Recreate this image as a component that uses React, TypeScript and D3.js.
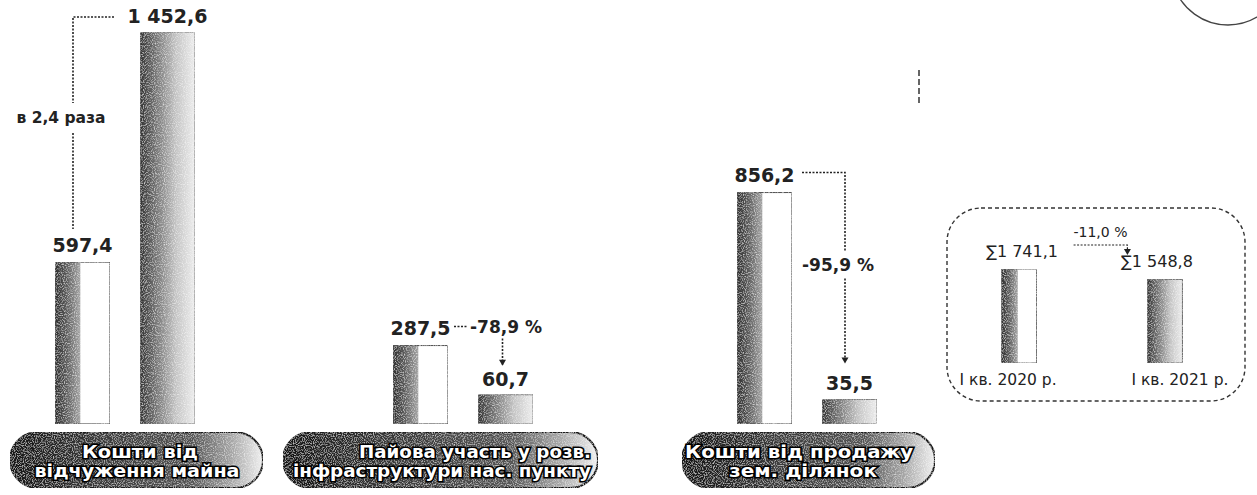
import React from "react";
import * as d3 from "d3";

// ---- data ----
const categoryLines: string[][] = [
  ["Кошти від", "відчуження майна"],
  ["Пайова участь у розв.", "інфраструктури нас. пункту"],
  ["Кошти від продажу", "зем. ділянок"],
];
const values2020: number[] = [597.4, 287.5, 856.2];
const values2021: number[] = [1452.6, 60.7, 35.5];
const changeLabels: string[] = ["в 2,4 раза", "-78,9 %", "-95,9 %"];
const periods: string[] = ["І кв. 2020 р.", "І кв. 2021 р."];
const totals: number[] = [1741.1, 1548.8];
const totalChange = "-11,0 %";

// ---- layout ----
const W = 1257;
const H = 495;
const base = 424;
const groupStarts = [55, 393, 737];
const pills = [
  { x: 10, w: 253, l2: 137, w1: 116, w2: 205, c1: 140 },
  { x: 283, w: 315, l2: 442, w1: 232, w2: 298, c1: 475 },
  { x: 682, w: 253, l2: 803, w1: 228, w2: 148, c1: 799 },
];

const loc = d3.formatLocale({ decimal: ",", thousands: "\u00a0", grouping: [3], currency: ["", ""] });
const fmt = loc.format(",.1f");

const yMain = d3.scaleLinear().domain([0, 200, 1452.6]).range([base - 18, base - 55, base - 392]);
const boxBase = 363;
const yBox = d3.scaleLinear().domain([0, 1741.1]).range([boxBase, boxBase - 94]);
const xBox = d3.scaleBand<string>().domain(periods).range([987, 1197]).paddingInner(0.76).paddingOuter(0.1);

const numFont = "'DejaVu Sans', sans-serif";
const ink = "#222";

function Arrow({ x, y }: { x: number; y: number }) {
  return <path d={`M${x - 3.5},${y - 6}L${x + 3.5},${y - 6}L${x},${y}Z`} fill={ink} />;
}

export default function App() {
  const groups = values2020.map((v, i) => {
    const xs = d3
      .scaleBand<string>()
      .domain(["2020", "2021"])
      .range([groupStarts[i], groupStarts[i] + 140])
      .paddingInner(0.353)
      .paddingOuter(0);
    return { i, xs, v0: v, v1: values2021[i] };
  });

  const dash = { stroke: ink, strokeWidth: 1.6, strokeDasharray: "2,1.5", fill: "none" } as const;

  return (
    <svg width={W} height={H} style={{ position: "absolute", left: 0, top: 0, background: "#fff" }}>
      <defs>
        <linearGradient id="g2020" x1="0" x2="1" y1="0" y2="0">
          <stop offset="0" stopColor="#2e2e2e" />
          <stop offset="0.2" stopColor="#5a5a5a" />
          <stop offset="0.45" stopColor="#a2a2a2" />
          <stop offset="0.47" stopColor="#ffffff" />
          <stop offset="1" stopColor="#ffffff" />
        </linearGradient>
        <linearGradient id="g2021" x1="0" x2="1" y1="0" y2="0">
          <stop offset="0" stopColor="#333" />
          <stop offset="0.3" stopColor="#777" />
          <stop offset="0.65" stopColor="#c4c4c4" />
          <stop offset="1" stopColor="#ededed" />
        </linearGradient>
        <linearGradient id="gpill" x1="0" x2="1" y1="0" y2="0">
          <stop offset="0" stopColor="#151515" />
          <stop offset="0.35" stopColor="#3a3a3a" />
          <stop offset="0.72" stopColor="#555" />
          <stop offset="0.88" stopColor="#a8a8a8" />
          <stop offset="1" stopColor="#f0f0f0" />
        </linearGradient>
        <filter id="grain" x="0" y="0" width="1" height="1">
          <feTurbulence type="fractalNoise" baseFrequency="0.9" numOctaves="1" seed="3" result="n" />
          <feColorMatrix in="n" type="matrix" values="0 0 0 0 1  0 0 0 0 1  0 0 0 0 1  0 0 0 1.6 -0.75" result="m" />
          <feComposite in="m" in2="SourceGraphic" operator="in" result="s" />
          <feMerge>
            <feMergeNode in="SourceGraphic" />
            <feMergeNode in="s" />
          </feMerge>
        </filter>
      </defs>

      {/* decorative arc top-right */}
      <path d={d3.arc()({ innerRadius: 57, outerRadius: 57, startAngle: Math.PI * 0.6, endAngle: Math.PI * 1.4 }) || ""}
        transform="translate(1228,-32)" fill="none" stroke="#444" strokeWidth={1.3} />
      <line x1={919} y1={70} x2={919} y2={106} stroke="#333" strokeWidth={1.5} strokeDasharray="6,3" />

      {/* main groups */}
      {groups.map(({ i, xs, v0, v1 }) => {
        const x0 = xs("2020")!;
        const x1 = xs("2021")!;
        const bw = xs.bandwidth();
        return (
          <g key={i}>
            <rect x={x0} y={yMain(v0)} width={bw} height={base - yMain(v0)} fill="url(#g2020)" stroke="#555" strokeWidth={1.2} filter="url(#grain)" />
            <rect x={x1} y={yMain(v1)} width={bw} height={base - yMain(v1)} fill="url(#g2021)" stroke="#777" strokeWidth={1} filter="url(#grain)" />
            <text x={x0 + bw / 2} y={yMain(v0) - 10} textAnchor="middle" fontFamily={numFont} fontWeight="bold" fontSize={19} fill={ink}>
              {fmt(v0)}
            </text>
            <text x={x1 + bw / 2} y={yMain(v1) - 9} textAnchor="middle" fontFamily={numFont} fontWeight="bold" fontSize={19} fill={ink}>
              {fmt(v1)}
            </text>
          </g>
        );
      })}

      {/* group 1 annotation */}
      {(() => {
        const xs = groups[0].xs;
        const lx = xs("2020")! + 18;
        const topY = yMain(values2021[0]) - 15;
        const botY = yMain(values2020[0]) - 33;
        return (
          <g>
            <path d={`M${xs("2021")! - 26},${topY}H${lx}V${topY + 86}`} {...dash} />
            <path d={`M${lx},${topY + 116}V${botY}`} {...dash} />
            <text x={lx - 12} y={topY + 106} textAnchor="middle" fontFamily={numFont} fontWeight="bold" fontSize={15.5} fill={ink}>
              {changeLabels[0]}
            </text>
          </g>
        );
      })()}

      {/* group 2 annotation */}
      {(() => {
        const xs = groups[1].xs;
        const y0 = yMain(values2020[1]) - 19;
        const x2c = xs("2021")! + xs.bandwidth() / 2 - 3;
        return (
          <g>
            <path d={`M${xs("2020")! + xs.bandwidth() + 6},${y0}H${xs("2021")! - 10}`} {...dash} />
            <text x={xs("2021")! - 8} y={y0 + 7} textAnchor="start" fontFamily={numFont} fontWeight="bold" fontSize={17} fill={ink}>
              {changeLabels[1]}
            </text>
            <path d={`M${x2c},${y0 + 12}V${yMain(values2021[1]) - 30}`} {...dash} />
            <Arrow x={x2c} y={yMain(values2021[1]) - 29} />
          </g>
        );
      })()}

      {/* group 3 annotation */}
      {(() => {
        const xs = groups[2].xs;
        const y0 = yMain(values2020[2]) - 20;
        const lx = xs("2021")! + 23;
        const yEnd = yMain(values2021[2]) - 36;
        return (
          <g>
            <path d={`M${xs("2020")! + xs.bandwidth() + 10},${y0}H${lx}V${y0 + 78}`} {...dash} />
            <path d={`M${lx},${y0 + 106}V${yEnd - 6}`} {...dash} />
            <Arrow x={lx} y={yEnd} />
            <text x={lx - 7} y={y0 + 99} textAnchor="middle" fontFamily={numFont} fontWeight="bold" fontSize={17} fill={ink}>
              {changeLabels[2]}
            </text>
          </g>
        );
      })()}

      {/* category pills */}
      {pills.map((p, i) => (
        <g key={"pill" + i}>
          <rect x={p.x} y={432} width={p.w} height={56} rx={28} ry={28} fill="url(#gpill)" stroke="#1a1a1a" strokeWidth={2} filter="url(#grain)" />
          {categoryLines[i].map((line, j) => (
            <text
              key={j}
              x={j === 0 ? p.c1 : p.l2}
              y={j === 0 ? 458 : 477}
              textAnchor="middle"
              fontFamily={numFont}
              fontWeight="bold"
              fontSize={17}
              fill="#fff"
              stroke="#000"
              strokeWidth={3}
              paintOrder="stroke"
              textLength={j === 0 ? p.w1 : p.w2}
              lengthAdjust="spacingAndGlyphs"
            >
              {line}
            </text>
          ))}
        </g>
      ))}

      {/* totals box */}
      <rect x={947} y={208} width={298} height={193} rx={34} ry={34} fill="none" stroke="#333" strokeWidth={1.4} strokeDasharray="4,3" />
      {periods.map((p, i) => {
        const x = xBox(p)!;
        const bw = xBox.bandwidth();
        return (
          <g key={p}>
            <rect x={x} y={yBox(totals[i])} width={bw} height={boxBase - yBox(totals[i])}
              fill={i === 0 ? "url(#g2020)" : "url(#g2021)"} stroke="#666" strokeWidth={1} filter="url(#grain)" />
            <text x={x + bw / 2 + (i === 0 ? 3 : -8)} y={yBox(totals[i]) - 12} textAnchor="middle" fontFamily={numFont} fontSize={16} fill={ink}>
              {"∑" + fmt(totals[i])}
            </text>
            <text x={x + bw / 2 + (i === 0 ? -11 : 15)} y={385} textAnchor="middle" fontFamily={numFont} fontSize={15.5} fill={ink}>
              {p}
            </text>
          </g>
        );
      })}
      {(() => {
        const xa = xBox(periods[0])! + xBox.bandwidth() + 37;
        const xb = xBox(periods[1])! - 20;
        const ly = yBox(totals[0]) - 24;
        return (
          <g>
            <text x={(xa + xb) / 2} y={ly - 8} textAnchor="middle" fontFamily={numFont} fontSize={14} fill={ink}>
              {totalChange}
            </text>
            <path d={`M${xa},${ly}H${xb}V${ly + 4}`} {...dash} strokeWidth={1.2} />
            <Arrow x={xb} y={ly + 10} />
          </g>
        );
      })()}
    </svg>
  );
}
